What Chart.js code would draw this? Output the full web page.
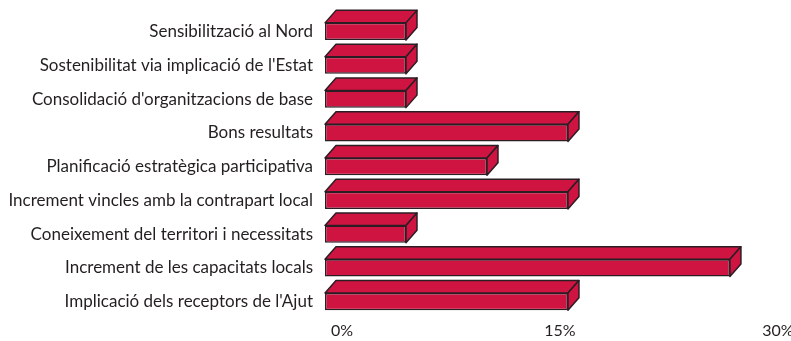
<!DOCTYPE html>
<html>
<head>
<meta charset="utf-8">
<script src="https://cdn.jsdelivr.net/npm/chart.js@4/dist/chart.umd.min.js"></script>
<style>
  html, body { margin: 0; padding: 0; background: #fff; }
  #wrap { width: 791px; height: 341px; }
</style>
</head>
<body>
<div id="wrap"><canvas id="factorsChart" width="791" height="341"></canvas></div>
<script>
// Factors, top to bottom
const categories = [
    'Sensibilització al Nord',
    "Sostenibilitat via implicació de l'Estat",
    "Consolidació d'organitzacions de base",
    'Bons resultats',
    'Planificació estratègica participativa',
    'Increment vincles amb la contrapart local',
    'Coneixement del territori i necessitats',
    'Increment de les capacitats locals',
    "Implicació dels receptors de l'Ajut"
];
// Percentage of answers
const percentages = [5, 5, 5, 15, 10, 15, 5, 25, 15];
// Value-axis tick marks (%)
const tickValues = [0, 15, 30];

const barColor = '#d01441';
const edgeColor = '#2b1d24';

// Draws top and right faces so the bars look like boxes
const boxBars = {
    id: 'boxBars',
    afterDatasetsDraw(chart) {
        const ctx = chart.ctx;
        const dx = 11, dy = 12.5;
        chart.getDatasetMeta(0).data.forEach(bar => {
            const p = bar.getProps(['x', 'y', 'base', 'height'], true);
            const top = p.y - p.height / 2;
            const bottom = p.y + p.height / 2;
            ctx.save();
            ctx.fillStyle = barColor;
            ctx.strokeStyle = edgeColor;
            ctx.lineWidth = 1.5;
            ctx.lineJoin = 'round';
            // top face
            ctx.beginPath();
            ctx.moveTo(p.base, top);
            ctx.lineTo(p.base + dx, top - dy);
            ctx.lineTo(p.x + dx, top - dy);
            ctx.lineTo(p.x, top);
            ctx.closePath();
            ctx.fill();
            ctx.stroke();
            // side face
            ctx.beginPath();
            ctx.moveTo(p.x, top);
            ctx.lineTo(p.x + dx, top - dy);
            ctx.lineTo(p.x + dx, bottom - dy);
            ctx.lineTo(p.x, bottom);
            ctx.closePath();
            ctx.fill();
            ctx.stroke();
            ctx.restore();
        });
    }
};

const ctx = document.getElementById('factorsChart').getContext('2d');

new Chart(ctx, {
    type: 'bar',
    data: {
        labels: categories,
        datasets: [{
            data: percentages,
            backgroundColor: barColor,
            borderColor: edgeColor,
            borderWidth: 1.5,
            borderSkipped: false,
            categoryPercentage: 1,
            barPercentage: 0.51,
            xAxisID: 'x'
        }]
    },
    options: {
        indexAxis: 'y',
        responsive: false,
        animation: false,
        layout: { padding: { top: 14.6, right: 6, bottom: 0, left: 0 } },
        plugins: {
            legend: { display: false },
            tooltip: { enabled: false }
        },
        scales: {
            x: {
                display: false,
                min: 0,
                max: 28.4
            },
            xLabels: {
                type: 'linear',
                position: 'bottom',
                min: -1.17,
                max: 30.49,
                grid: { display: false, drawTicks: false },
                border: { display: false },
                afterBuildTicks(scale) {
                    scale.ticks = tickValues.map(v => ({ value: v }));
                },
                afterFit(scale) {
                    scale.height = 22.5;
                    scale.paddingLeft = 0;
                    scale.paddingRight = 0;
                },
                ticks: {
                    padding: 3,
                    color: '#231f20',
                    font: { family: 'Lato', size: 16 },
                    callback: v => v + '%'
                }
            },
            y: {
                grid: { display: false, drawTicks: false },
                border: { display: false },
                afterFit(scale) {
                    scale.width = 325;
                    scale.paddingTop = 0;
                    scale.paddingBottom = 0;
                },
                ticks: {
                    padding: 12,
                    color: '#231f20',
                    font: { family: 'Lato', size: 17 }
                }
            }
        }
    },
    plugins: [boxBars]
});
</script>
</body>
</html>
